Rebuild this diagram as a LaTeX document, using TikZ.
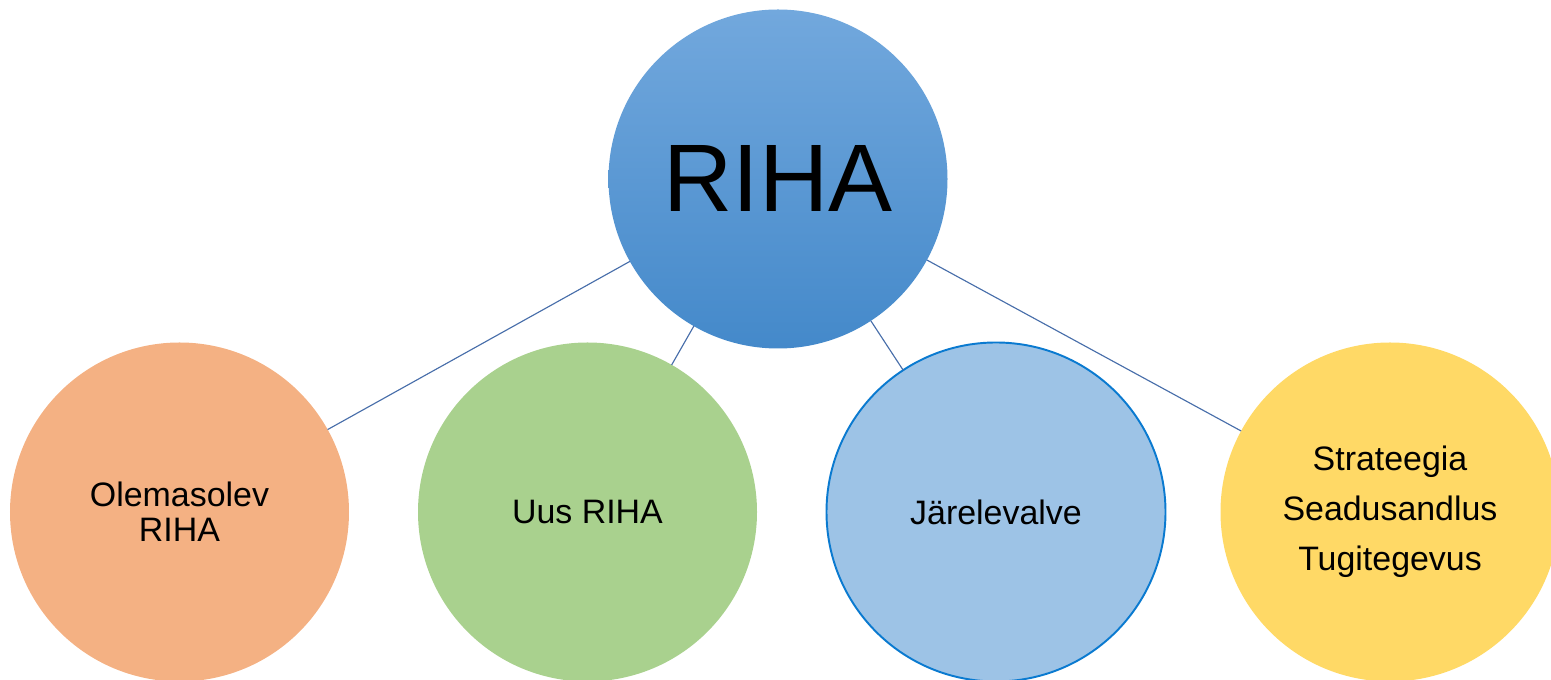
\documentclass[tikz,border=0pt]{standalone}
\usepackage{fontspec}
\setmainfont{Liberation Sans}
\usepackage{xcolor}
\definecolor{rihatop}{RGB}{114,168,221}
\definecolor{rihabot}{RGB}{68,137,202}
\definecolor{oldfill}{RGB}{244,177,131}
\definecolor{newfill}{RGB}{169,209,142}
\definecolor{checkfill}{RGB}{157,195,230}
\definecolor{checkline}{RGB}{10,122,208}
\definecolor{stratfill}{RGB}{255,217,102}
\definecolor{linkcol}{RGB}{72,110,170}

\begin{document}
\begin{tikzpicture}[
    bubble/.style={circle,minimum size=6.78cm,inner sep=0pt,outer sep=0pt,align=center,
        font=\fontsize{19.3}{19.85}\selectfont},
    link/.style={draw=linkcol,line width=0.65pt}]
        \useasboundingbox (0,0) rectangle (31.02,13.6);
        \clip (0,0) rectangle (31.02,13.6);
        \node[bubble,top color=rihatop,bottom color=rihabot,font=\fontsize{54.6}{60}\selectfont] (riha) at (15.56,10.02) {RIHA};
        \node[bubble,fill=oldfill] (olemas) at (3.59,3.36) {Olemasolev\\RIHA};
        \node[bubble,fill=newfill] (uus) at (11.75,3.36) {Uus RIHA};
        \node[bubble,fill=checkfill,draw=checkline,line width=1.1pt] (jarel) at (19.92,3.36) {Järelevalve};
        \node[bubble,fill=stratfill] (strat) at (27.8,3.36) {Strateegia\\[8.5pt]Seadusandlus\\[8.5pt]Tugitegevus};
        \draw[link] (riha) -- (olemas);
        \draw[link] (riha) -- (uus);
        \draw[link] (riha) -- (jarel);
        \draw[link] (riha) -- (strat);
    \end{tikzpicture}
\end{document}
